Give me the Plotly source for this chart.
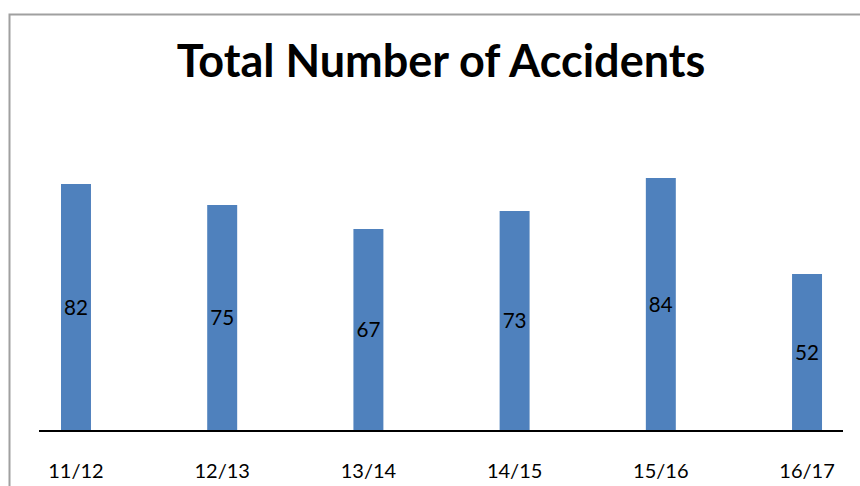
import plotly.graph_objects as go

categories = ["11/12", "12/13", "13/14", "14/15", "15/16", "16/17"]
accidents = [82, 75, 67, 73, 84, 52]

fig = go.Figure()
fig.add_trace(go.Bar(
    x=list(range(len(categories))),
    y=accidents,
    text=[str(v) for v in accidents],
    textposition="inside",
    insidetextanchor="middle",
    textangle=0,
    textfont=dict(family="Lato", size=22, color="black"),
    marker=dict(color="#4F81BD", line=dict(width=0)),
    width=0.205,
    hoverinfo="skip",
))

fig.update_layout(
    width=860, height=486,
    margin=dict(l=39, r=17, t=160, b=56),
    paper_bgcolor="white", plot_bgcolor="white",
    showlegend=False,
    title=dict(
        text="<b>Total Number of Accidents</b>",
        font=dict(family="Lato", size=45, color="black"),
        x=441/860, xanchor="center", xref="container",
        y=1-61/486, yanchor="middle", yref="container",
    ),
    xaxis=dict(
        range=[-0.253, 5.246],
        tickmode="array",
        tickvals=list(range(len(categories))),
        ticktext=categories,
        showline=True, linecolor="black", linewidth=2,
        showgrid=False, zeroline=False, ticks="",
        tickfont=dict(family="Lato", size=20, color="black"),
        ticklabelstandoff=22,
        automargin=False,
    ),
    yaxis=dict(
        range=[0, 90], visible=False, showgrid=False, zeroline=False,
        automargin=False,
    ),
    shapes=[dict(
        type="rect", xref="paper", yref="paper",
        x0=(9.5-39)/804, x1=1.2, y0=-0.5, y1=(430-14.5)/270,
        line=dict(color="#a0a0a0", width=2), fillcolor="rgba(0,0,0,0)",
        layer="below",
    )],
)

fig.write_html("out.html", config={"displayModeBar": False},
               post_script="document.body.style.margin='0';")
